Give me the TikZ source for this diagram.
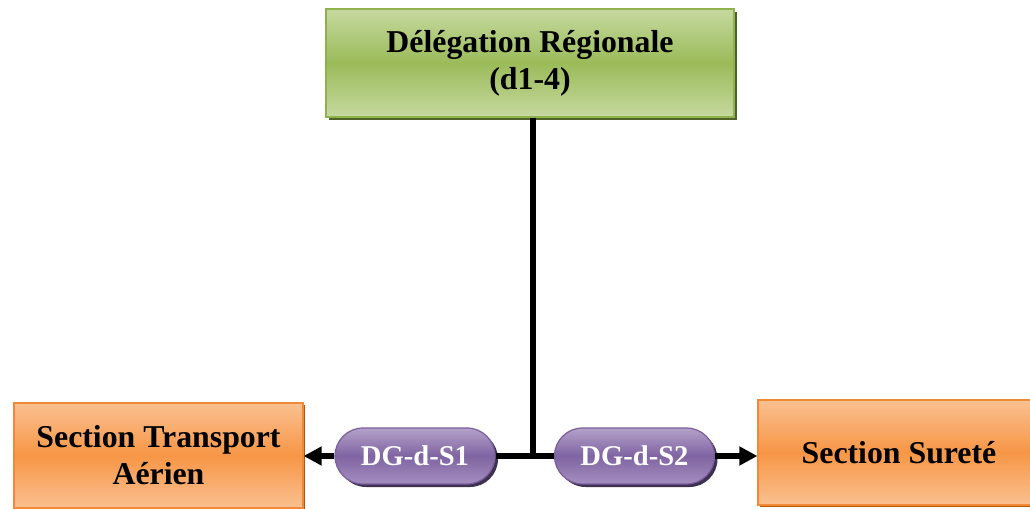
\documentclass[tikz,border=0pt]{standalone}
\usepackage{fontspec}
\setmainfont{Liberation Serif}
\usetikzlibrary{arrows.meta,shapes.misc,shadows}
\definecolor{gtop}{HTML}{C6D9A0}
\definecolor{gmid}{HTML}{9BBB59}
\definecolor{gbord}{HTML}{8FB24C}
\definecolor{gshad}{HTML}{4F6228}
\definecolor{otop}{HTML}{FAC090}
\definecolor{omid}{HTML}{F79646}
\definecolor{obord}{HTML}{F08A36}
\definecolor{oshad}{HTML}{B65708}
\definecolor{ptop}{HTML}{B3A2C9}
\definecolor{pmid}{HTML}{8064A2}
\definecolor{pbot}{HTML}{A48FBF}
\definecolor{pbord}{HTML}{7A5E9C}
\definecolor{pshad}{HTML}{3F3151}
\tikzset{
  greenbox/.style={rectangle, draw=gbord, line width=0.6pt, top color=gtop, bottom color=gtop, middle color=gmid,
    drop shadow={shadow xshift=1.5pt, shadow yshift=-1.5pt, fill=gshad, opacity=1},
    minimum width=204pt, minimum height=54pt, align=center, inner sep=0pt,
    font=\fontsize{15.9}{18.5}\selectfont\bfseries},
  orangebox/.style={rectangle, draw=obord, line width=0.6pt, top color=otop, bottom color=otop, middle color=omid,
    drop shadow={shadow xshift=1.2pt, shadow yshift=-1.2pt, fill=oshad, opacity=1},
    minimum height=52.5pt, align=center, inner sep=0pt,
    font=\fontsize{15.9}{18.5}\selectfont\bfseries},
  pill/.style={rounded rectangle, draw=pbord, line width=0.6pt, top color=ptop, bottom color=pbot, middle color=pmid,
    drop shadow={shadow xshift=1.5pt, shadow yshift=-1.5pt, fill=pshad, opacity=1},
    minimum width=80pt, minimum height=28pt, inner sep=0pt, text=white,
    font=\fontsize{14.3}{16}\selectfont\bfseries},
  conn/.style={line width=3pt, draw=black},
  arr/.style={conn, -{Triangle[length=9pt,width=9pt]}}
}
\begin{document}
\begin{tikzpicture}[x=0.5pt,y=-0.5pt]
\useasboundingbox (0,0) rectangle (1030,509);
\clip (0,0) rectangle (1030,509);
\node[greenbox] (top) at (530,63) {Délégation Régionale\\(d1-4)};
\node[orangebox, minimum width=144.5pt] (left) at (158.5,455.5) {Section Transport\\Aérien};
\node[orangebox, minimum width=141pt] (right) at (899,452.5) {Section Sureté};
\coordinate (j) at (533,456);
\draw[conn] (j |- top.south) -- (j);
\node[pill] (p1) at (415,456) {DG-d-S1};
\node[pill] (p2) at (634.5,456) {DG-d-S2};
\draw[conn] (j) -- (p1.east);
\draw[conn] (j) -- (p2.west);
\draw[arr] (p1.west) -- (p1.west -| left.east);
\draw[arr] (p2.east) -- (p2.east -| right.west);
\end{tikzpicture}
\end{document}
